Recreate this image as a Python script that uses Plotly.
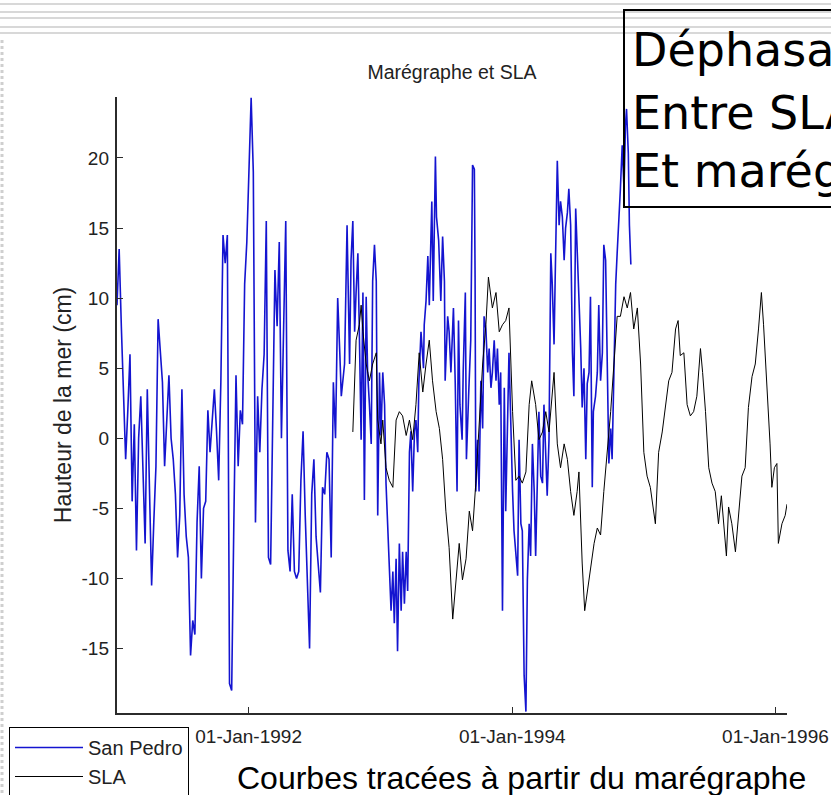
import pandas as pd
import plotly.graph_objects as go

# ---------------------------------------------------------------- data
start = pd.Timestamp("1991-01-01")

# San Pedro tide gauge: days since 1991-01-01 and sea level (cm)
sp_days = list(range(0, 624, 6)) + [
    622, 631, 638, 645, 649, 654, 659, 663, 668, 672, 677, 682, 686, 691, 695,
    700, 705, 709, 714, 719, 723, 728, 732, 737, 742, 746, 751, 755, 760, 765,
    769, 774, 778, 783, 788, 792, 797, 802, 806, 811, 815, 820, 825, 829, 834,
    837, 843, 850, 852, 857, 862, 866, 873, 877, 883, 886, 892, 898, 903, 908,
    910, 917, 921, 926, 933, 938, 943, 947, 951, 957, 960, 966, 969, 975, 981,
    986, 991, 993, 995, 1000, 1004, 1009, 1014, 1018, 1023, 1028, 1032, 1037,
    1041, 1046, 1051, 1055, 1060, 1064, 1069, 1074, 1078, 1087, 1092, 1097,
    1101, 1106, 1111, 1115, 1120, 1124, 1129, 1134, 1138, 1143, 1147, 1152,
    1157, 1161, 1166, 1170, 1175, 1180, 1184, 1189, 1193, 1198, 1203, 1207,
    1212, 1215, 1221, 1226, 1230, 1235, 1240, 1244, 1249, 1253, 1258, 1263,
    1267, 1272, 1276, 1281, 1286, 1290, 1295, 1300, 1304, 1309, 1313, 1318,
    1321, 1327, 1332, 1336, 1341, 1346, 1350, 1355, 1360, 1364, 1369, 1373,
    1378, 1383, 1387, 1392, 1396, 1401, 1406, 1410, 1413, 1418, 1421, 1425,
]
sp_vals = [
    9.5, 13.5, 8, 3, -1.5, 2, 6, -4.5, 1, -8, 0, 3, -2, -7.5, 3.5, -4, -10.5,
    -6, -2, 8.5, 6, 4, -2, 1, 4.5, 0, -1.5, -4, -8.5, -5.5, 3.5, -4, -7, -8.5,
    -15.5, -13, -14, -6, -2, -10, -5, -4.5, 2, -1, 1.5, 3.5, 0.5, -3, 4, 14.5,
    12.5, 14.5, -17.5, -18, -6, 4.5, -2, 2, 1, 11, 14, 20, 24.3, 19, -6, 3, -1,
    3.5, 6, 15.5, -8.5, -9, 2, 12, 8, 14, 0, 9, 15.5, -8, -9.5, -4, -9.5, -10,
    -9.5, -3, 0.5, -5.5, -10.5, -15, -4, -1.5, -7, -9, -11, -3.5, -4, -1, -1.5,
    -8.5, 4, 0, 10, 6,
    3.0, 5.3, 15.2, 5.3, 12.7, 15.5, 7.6, 10.4, 13.2, 7.6, -0.1, 10.4, -4.4,
    10.1, 4.7, 2.4, -0.4, 11.2, 13.8, 11.2, -5.5, 4.7, 0.2, 4.7, 2.4, -3.2,
    -6.1, -8.4, -12.3, -9.5, -13.2, -8.6, -15.2, -7.5, -12.3, -8.1, -11.8,
    -8.1, -10.9, -1.0, 0.5, -3.8, 0.5, 1.3, -1.0, 3.9, 7.6, 5.0, 8.1, 9.8,
    13.0, 9.5, 16.9, 9.8, 20.1, 15.8, 14.1, 9.8, 14.4, 11.2, 4.1, 8.7, 7.6,
    4.7, 9.3, 3.9, -3.8, 8.4, 2.4, -0.1, 4.7, 10.4, -1.5, 3.0, 7.0, 19.5, 19.2,
    11.5, -3.8, -0.1, -3.8, 4.1, 0.7, 8.7, 7.8, 4.7, 6.4, 3.6, 4.7, 7.0, 4.1,
    6.4, 2.4, 4.7, -12.3, 3.6, -5.2, 6.1, 0.2, -3.8, -6.6, -8.4, -9.8, -0.1,
    -6.1, -6.6, -16.9, -19.5, -10.1, -6.1, -8.4, -0.4, -3.8, -8.4, -2.1,
    1.9, -2.7, -3.2, 2.4, -2.1, -4.1, -0.1, 13.2, 11.0, 6.7, 11.2, 19.8, 15.2,
    16.9, 15.8, 12.7, 15.0, 16.1, 17.8, 15.2, 6.1, 3.0, 16.4, 13.8, 11.0, 6.4,
    2.2, 5.0, -1.5, 3.9, 4.7, 10.1, -3.5, 1.9, 3.0, 4.7, 9.5, 4.1, 6.1, 13.8,
    12.7, 4.7, -1.8, 0.7, -1.5, 4.7, 11.0, 13.2, 15.5, 17.8, 20.9, 17.8, 22.3,
    23.5, 20.3, 15.2, 12.4,
]

# Altimetric sea level anomaly (SLA): days since 1991-01-01 and anomaly (cm)
sla_days = [
    654, 663, 672, 677, 682, 691, 700, 709, 719, 723,
    732, 737, 746, 755, 765, 774, 783, 792, 802, 811,
    820, 829, 838, 848, 857, 866, 875, 885, 894, 903,
    912, 921, 931, 940, 949, 958, 968, 977, 986, 995,
    1004, 1014, 1023, 1030, 1041, 1051, 1060, 1069, 1078, 1087,
    1097, 1106, 1115, 1124, 1134, 1143, 1150, 1161, 1170, 1180,
    1189, 1198, 1212, 1221, 1230, 1240, 1249, 1258, 1267, 1276,
    1281, 1286, 1290, 1297, 1304, 1313, 1323, 1332, 1341, 1350,
    1360, 1369, 1378, 1387, 1396, 1406, 1415, 1424, 1433, 1443,
    1452, 1461, 1470, 1479, 1493, 1502, 1512, 1521, 1530, 1539,
    1549, 1556, 1562, 1572, 1581, 1590, 1599, 1608, 1618, 1624,
    1632, 1641, 1650, 1659, 1668, 1676, 1685, 1690, 1696, 1705,
    1715, 1724, 1733, 1742, 1751, 1761, 1770, 1779, 1787, 1793,
    1802, 1811, 1816, 1823, 1830, 1834, 1844, 1853, 1858,
]
sla_vals = [
    0.45, 7.0, 8.1, 9.5, 7.6, 5.3, 4.1, 5.3, 6.1, 1.3,
    -0.4, 1.3, -2.1, -3.0, -3.5, 1.3, 1.9, 1.6, 0.2, 1.3,
    -0.1, 2.4, 6.1, 3.3, 5.3, 7.0, 4.1, 1.9, 0.7, -1.5,
    -5.2, -7.8, -12.9, -10.3, -7.5, -10.1, -8.6, -5.2, -6.6, -3.2,
    1.3, 5.3, 8.1, 11.5, 9.3, 10.4, 7.6, 8.1, 8.4, 9.3,
    1.9, -3.0, -2.7, -3.2, -2.4, 2.4, 4.1, 2.4, -0.1, 0.45,
    1.9, 0.45, 4.7, -0.4, -2.1, -0.4, -1.5, -3.8, -5.5, -3.8,
    -2.4, -6.1, -8.9, -12.3, -10.9, -9.5, -7.5, -6.4, -6.9, -3.8,
    -1.0, 1.9, 5.3, 8.7, 8.7, 10.1, 9.3, 10.4, 7.8, 9.3,
    5.3, -1.0, -2.7, -3.5, -6.1, -1.0, 0.45, 2.2, 4.1, 4.7,
    7.8, 8.4, 5.9, 6.1, 2.4, 1.6, 1.9, 3.0, 6.4, 4.7,
    1.9, -2.1, -3.2, -3.8, -6.1, -4.1, -7.2, -8.4, -4.9, -6.1,
    -8.1, -5.5, -2.7, -2.1, 2.2, 4.4, 5.3, 7.8, 10.4, 8.1,
    4.1, -0.4, -3.5, -2.1, -1.8, -7.5, -6.1, -5.5, -4.7,
]

x_tick_dates = ["1992-01-01", "1994-01-01", "1996-01-01"]
x_tick_text = ["01-Jan-1992", "01-Jan-1994", "01-Jan-1996"]
y_ticks = [-15, -10, -5, 0, 5, 10, 15, 20]
y_tick_text = ["-15", "-10", "-5", "0", "5", "10", "15", "20"]
y_range = [-19.6, 24.35]

sp_dates = [start + pd.Timedelta(days=d) for d in sp_days]
sla_dates = [start + pd.Timedelta(days=d) for d in sla_days]

# ---------------------------------------------------------------- layout helpers
W, H = 831, 795
ML, MR, MT, MB = 100, 44, 97, 82      # figure margins
AXIS_LEFT = 117                        # pixel column of the y axis line
PW, PH = W - ML - MR, H - MT - MB


def px(x):
    return (x - ML) / PW


def py(y):
    return (H - MB - y) / PH


SANS = "Liberation Sans, Arial, sans-serif"
AXIS_COLOR = "#2b2b2b"
TEXT_COLOR = "#222222"

fig = go.Figure()
fig.add_trace(go.Scatter(
    x=sp_dates, y=sp_vals, mode="lines", name="San Pedro",
    line=dict(color="#1414d0", width=1.6),
))
# SLA is drawn on the companion y axis (same range) that carries the labels
fig.add_trace(go.Scatter(
    x=sla_dates, y=sla_vals, mode="lines", name="SLA", yaxis="y2",
    line=dict(color="black", width=1),
))

shapes = []
# slide header rules
for yy in [4, 12, 18, 27, 33]:
    shapes.append(dict(type="line", xref="paper", yref="paper",
                       x0=px(0), x1=px(W), y0=py(yy), y1=py(yy),
                       line=dict(color="#d8d8d8", width=2)))
# slide left dotted border
shapes.append(dict(type="line", xref="paper", yref="paper",
                   x0=px(2), x1=px(2), y0=py(40), y1=py(H),
                   line=dict(color="#cfcfcf", width=3, dash="dot")))
# callout frame
shapes.append(dict(type="rect", xref="paper", yref="paper",
                   x0=px(624), x1=px(W + 20), y0=py(207), y1=py(10),
                   line=dict(color="black", width=2)))

annotations = []
for txt, yc in [("Déphasage", 50), ("Entre SLA", 113), ("Et marégraphe", 171)]:
    annotations.append(dict(text=txt, xref="paper", yref="paper",
                            x=px(630), y=py(yc), xanchor="left", yanchor="middle",
                            showarrow=False,
                            font=dict(family="DejaVu Sans, Verdana, sans-serif",
                                      size=46, color="black")))
annotations.append(dict(text="Courbes tracées à partir du marégraphe",
                        xref="paper", yref="paper", x=px(521), y=py(778),
                        xanchor="center", yanchor="middle", showarrow=False,
                        font=dict(family=SANS, size=32, color="black")))

fig.update_layout(
    width=W, height=H,
    margin=dict(l=ML, r=MR, t=MT, b=MB, autoexpand=False),
    paper_bgcolor="white", plot_bgcolor="white",
    title=dict(text="Marégraphe et SLA", x=px(452), xref="paper",
               xanchor="center", y=1 - 72 / H, yanchor="middle",
               font=dict(family=SANS, size=19.5, color=TEXT_COLOR)),
    showlegend=True,
    legend=dict(x=px(9), y=py(727), xanchor="left", yanchor="top",
                bgcolor="white", bordercolor="black", borderwidth=1,
                font=dict(family=SANS, size=20, color=TEXT_COLOR),
                itemwidth=68, tracegroupgap=0),
    shapes=shapes,
    annotations=annotations,
)

fig.update_xaxes(
    type="date", range=[start, sla_dates[-1]], domain=[px(AXIS_LEFT), 1],
    tickvals=x_tick_dates, ticktext=x_tick_text,
    ticks="inside", ticklen=6, tickwidth=1, tickcolor=AXIS_COLOR,
    showline=True, linecolor=AXIS_COLOR, linewidth=1.5, mirror=False,
    showgrid=False, zeroline=False, ticklabelstandoff=5,
    ticklabeloverflow="allow",
    tickfont=dict(family=SANS, size=19, color=TEXT_COLOR),
)
# main y axis: line and inward ticks
fig.update_yaxes(
    range=y_range, tickvals=y_ticks, showticklabels=False,
    ticks="inside", ticklen=6, tickwidth=1, tickcolor=AXIS_COLOR,
    showline=True, linecolor=AXIS_COLOR, linewidth=1.5, mirror=False,
    showgrid=False, zeroline=False,
)
# companion y axis carrying the tick labels close to the axis line
fig.update_layout(yaxis2=dict(
    overlaying="y", anchor="free", position=px(109), side="left",
    range=y_range, tickvals=y_ticks, ticktext=y_tick_text,
    showline=False, ticks="", showgrid=False, zeroline=False,
    tickfont=dict(family=SANS, size=19, color=TEXT_COLOR),
    title=dict(text="Hauteur de la mer (cm)", standoff=2,
               font=dict(family=SANS, size=23, color=TEXT_COLOR)),
))

fig.write_html("out.html")
